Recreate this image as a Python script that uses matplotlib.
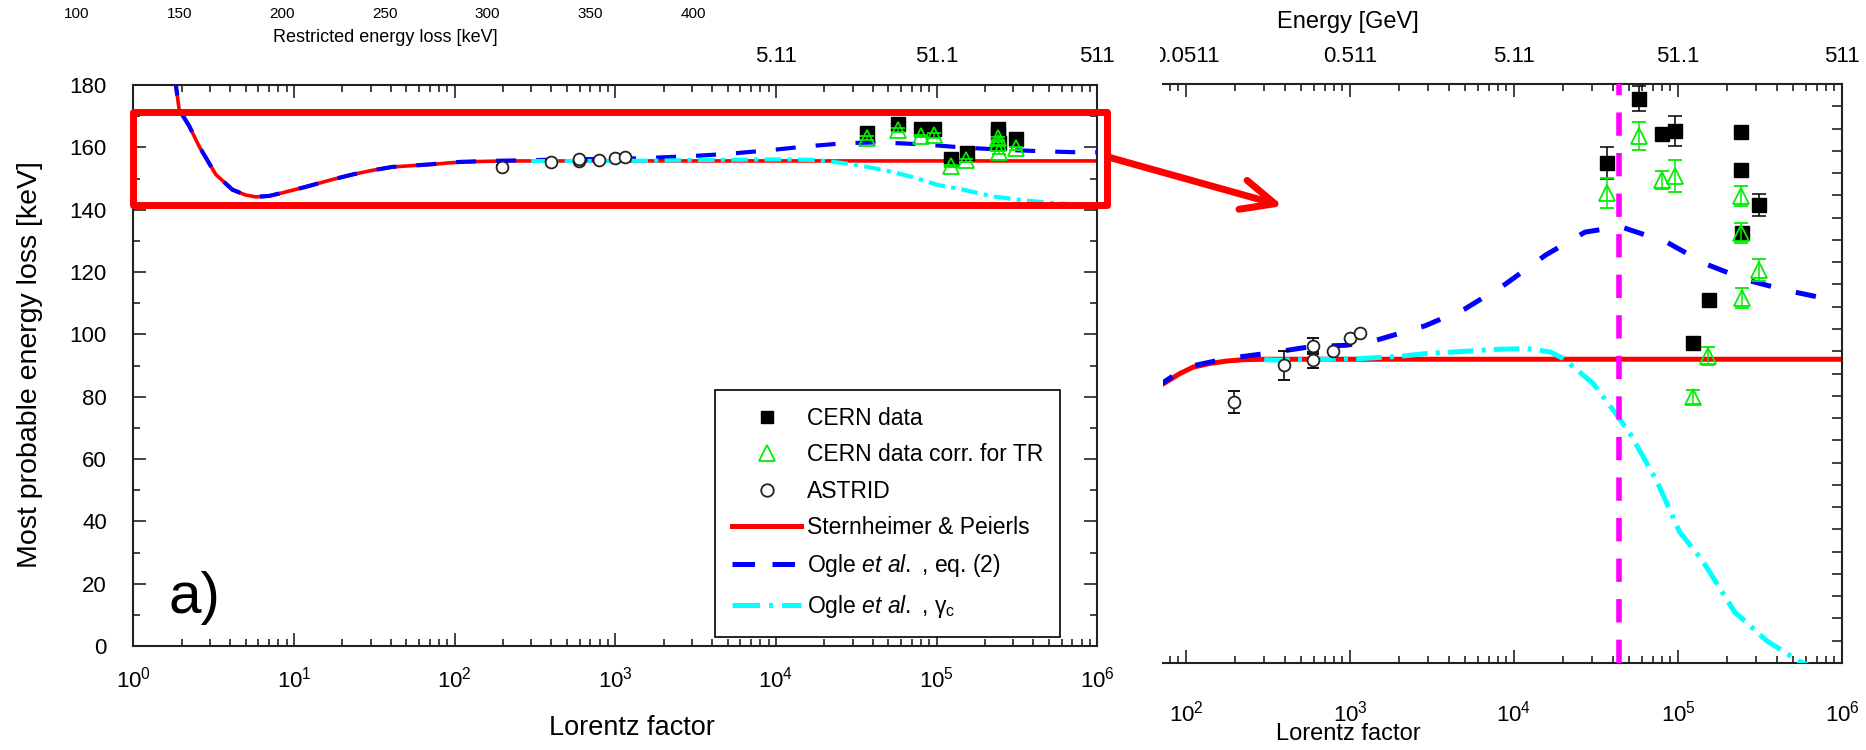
import numpy as np
import matplotlib
matplotlib.use("Agg")
import matplotlib.pyplot as plt
from matplotlib.lines import Line2D
from matplotlib.patches import Rectangle, FancyArrowPatch, ArrowStyle
from matplotlib.ticker import MultipleLocator, LogLocator, NullFormatter
from matplotlib.transforms import Bbox, blended_transform_factory
from matplotlib import font_manager

# ---------------- data ----------------
# Sternheimer & Peierls (red)
gam_sp = [1.80, 1.84, 1.93, 2.23, 2.57, 3.26, 4.14, 5.0, 5.78, 7.0, 8.46, 11.8, 17.3, 23,
          30.6, 40.8, 57, 72.8, 91.9, 110.8, 140, 177, 224, 300, 1e6]
e_sp = [183, 180, 172.1, 166.8, 160.3, 151.3, 146.4, 144.7, 144.1, 144.4, 145.4, 147.3, 149.65, 151.25,
        152.6, 153.7, 154.2, 154.54, 155.0, 155.29, 155.45, 155.56, 155.62, 155.64, 155.64]
# Ogle et al., eq. (2) (blue dashed)
gam_og = [1.80, 1.84, 1.93, 2.23, 2.57, 3.26, 4.14, 5.0, 5.78, 7.0, 8.46, 11.8, 17.3, 23,
          30.6, 40.8, 57, 72.8, 91.9, 110.8, 177, 309, 570, 955, 1455, 2863, 5020, 8810,
          15600, 27100, 44300, 85300, 147500, 262000, 460000, 701000, 1e6]
e_og = [183, 180, 172.1, 166.8, 160.3, 151.3, 146.4, 144.7, 144.1, 144.4, 145.4, 147.3, 149.65, 151.25,
        152.6, 153.7, 154.2, 154.6, 155.1, 155.35, 155.67, 155.9, 156.2, 156.27, 156.5, 157.14, 157.9, 159.0,
        160.32, 161.35, 161.6, 160.9, 159.92, 159.2, 158.73, 158.45, 158.4]
# Ogle et al., gamma_c (cyan dash-dot)
gam_gc = [300, 357, 656, 1151, 2020, 2940, 5150, 7480, 11900, 16600, 20000, 30400, 40400, 51000,
          74000, 102000, 141000, 221000, 347000, 542000, 1e6]
e_gc = [155.62, 155.6, 155.63, 155.67, 155.77, 155.9, 156.0, 156.08, 156.12, 155.97, 155.67, 154.55,
        153.34, 152.3, 150.2, 147.9, 146.6, 144.3, 143.0, 142.1, 141.2]

# CERN data (black squares)
gam_cern = [3.67e4, 5.78e4, 7.96e4, 9.6e4, 1.23e5, 1.54e5, 2.41e5, 2.41e5, 2.45e5, 3.12e5]
e_cern = [164.45, 167.34, 165.76, 165.88, 156.35, 158.3, 165.83, 164.12, 161.3, 162.58]
err_cern = [0.7, 0.57, 0.0, 0.68, 0.0, 0.0, 0.0, 0.0, 0.0, 0.5]
# CERN data corrected for TR (green triangles)
gam_tr = [3.67e4, 5.78e4, 7.96e4, 9.6e4, 1.23e5, 1.52e5, 2.41e5, 2.41e5, 2.46e5, 3.12e5]
e_tr = [163.1, 165.65, 163.7, 163.85, 153.95, 155.8, 162.95, 161.3, 158.4, 159.65]
err_tr = [0.68, 0.63, 0.4, 0.72, 0.3, 0.4, 0.45, 0.45, 0.45, 0.5]
# ASTRID (open circles)
gam_astrid = [197, 396, 593, 593, 791, 1000, 1151]
e_astrid = [153.72, 155.37, 155.6, 156.23, 156.0, 156.6, 156.8]
err_astrid = [0.5, 0.64, 0.35, 0.35, 0.0, 0.0, 0.0]

gamma_crit = 4.37e4  # magenta line

energy_ticks_left = [1e4, 1e5, 1e6]
energy_labels_left = ["5.11", "51.1", "511"]
energy_ticks_right = [1e2, 1e3, 1e4, 1e5, 1e6]
energy_labels_right = ["0.0511", "0.511", "5.11", "51.1", "511"]
restricted_ticks = [100, 150, 200, 250, 300, 350, 400]

legend_labels = ["CERN data", "CERN data corr. for TR", "ASTRID", "Sternheimer & Peierls",
                 r"Ogle $\mathit{et\ al.}$ , eq. (2)", r"Ogle $\mathit{et\ al.}$ , $\gamma_{c}$"]

# ---------------- style ----------------
plt.rcParams['font.family'] = ['Liberation Sans', 'DejaVu Sans']
plt.rcParams['mathtext.fontset'] = 'custom'
plt.rcParams['mathtext.rm'] = 'Liberation Sans'
plt.rcParams['mathtext.it'] = 'Liberation Sans:italic'
plt.rcParams['mathtext.default'] = 'regular'
names = {f.name for f in font_manager.fontManager.ttflist}
narrow = 'Liberation Sans Narrow' if 'Liberation Sans Narrow' in names else 'Liberation Sans'

RED, BLUE, CYAN, GREEN, MAG = '#ff0000', '#0000ff', '#00ffff', '#00ee00', '#ff00ff'

W, H = 1866, 750
fig = plt.figure(figsize=(W / 100, H / 100), dpi=100)
def fx(x): return x / W
def fy(y): return 1 - y / H

ax1 = fig.add_axes([fx(133.3), fy(646), fx(1097.3) - fx(133.3), fy(85) - fy(646)])
ax2 = fig.add_axes([fx(1163), fy(663), fx(1842) - fx(1163), fy(84) - fy(663)])

def nanerr(e):
    e = np.asarray(e, float)
    return np.where(e > 0, e, np.nan)

def draw(ax, lw_s, lw_d, dash_b, dash_c):
    ax.plot(gam_sp, e_sp, color=RED, lw=lw_s, zorder=2)
    ax.plot(gam_og, e_og, color=BLUE, lw=lw_d, dashes=dash_b, zorder=3)
    ax.plot(gam_gc, e_gc, color=CYAN, lw=lw_d, dashes=dash_c, zorder=4)
    ax.errorbar(gam_astrid, e_astrid, yerr=nanerr(err_astrid), fmt='o', ms=8.5, mfc='white',
                mec='#222222', mew=1.3, ecolor='black', elinewidth=1.1, capsize=4.5, capthick=1.1, zorder=6)
    ax.errorbar(gam_cern, e_cern, yerr=nanerr(err_cern), fmt='s', ms=9.4, color='black',
                ecolor='black', elinewidth=1.1, capsize=4.7, capthick=1.1, zorder=7)
    ax.errorbar(gam_tr, e_tr, yerr=nanerr(err_tr), fmt='^', ms=11, mfc='none', mec=GREEN, mew=1.3,
                ecolor=GREEN, elinewidth=1.1, capsize=4.7, capthick=1.1, zorder=8)

draw(ax1, 2.6, 3.0, (4.8, 4.8), (4, 1.5, 1, 1.5))
draw(ax2, 3.6, 3.6, (4.1, 5.1), (5.1, 1.65, 0.8, 1.65))
ax2.axvline(gamma_crit, color=MAG, lw=4, dashes=(4.2, 3.1), zorder=5)

for ax in (ax1, ax2):
    ax.set_xscale('log')
    ax.xaxis.set_major_locator(LogLocator(base=10, numticks=20))
    ax.xaxis.set_minor_locator(LogLocator(base=10, subs=np.arange(2, 10), numticks=100))
    ax.xaxis.set_minor_formatter(NullFormatter())
    for s in ax.spines.values():
        s.set_linewidth(1.5)
        s.set_color('#222222')
    ax.tick_params(which='both', direction='in', top=True, width=1.2, color='#222222')
    ax.tick_params(which='major', length=9.5)
    ax.tick_params(which='minor', length=5)

ax1.set_xlim(1, 1e6)
ax1.set_ylim(0, 180)
ax1.yaxis.set_major_locator(MultipleLocator(20))
ax1.yaxis.set_minor_locator(MultipleLocator(10))
ax1.tick_params(which='both', right=True)
ax1.tick_params(axis='y', labelsize=16, pad=19)
ax1.tick_params(axis='x', labelsize=16, pad=15)

ax2.set_xlim(10 ** (2 + (1163 - 1186) / 164), 1e6)
ax2.set_ylim(142, 168)
ax2.spines['left'].set_visible(False)
ax2.yaxis.set_major_locator(MultipleLocator(1))
ax2.tick_params(axis='y', which='both', left=False, labelleft=False, right=True, length=7)
ax2.tick_params(axis='x', labelsize=16, pad=27)

# top energy labels
tl = blended_transform_factory(ax1.transData, fig.transFigure)
for g, s in zip(energy_ticks_left, energy_labels_left):
    fig.text(g, fy(57), s, transform=tl, ha='center', va='center', fontsize=16)
tr = blended_transform_factory(ax2.transData, fig.transFigure)
for g, s in zip(energy_ticks_right, energy_labels_right):
    t = fig.text(g, fy(57), s, transform=tr, ha='center', va='center', fontsize=16)
    t.set_clip_on(True)
    t.set_clip_box(Bbox.from_extents(1160, 0, 1866, 750))

# axis labels
fig.text(fx(30), fy(365), 'Most probable energy loss [keV]', rotation=90, ha='center', va='center', fontsize=20.5)
fig.text(fx(632), fy(728), 'Lorentz factor', ha='center', va='center', fontsize=19.5)
fig.text(fx(1348), fy(734), 'Lorentz factor', ha='center', va='center', fontsize=17)
fig.text(fx(1348), fy(22), 'Energy [GeV]', ha='center', va='center', fontsize=17)
fig.text(fx(194), fy(598), 'a)', ha='center', va='center', fontsize=42)

# stray restricted-energy-loss axis at the top
ax0 = fig.add_axes([fx(77), fy(1), fx(693) - fx(77), 0.0005])
ax0.set_xlim(restricted_ticks[0], restricted_ticks[-1])
ax0.set_xticks(restricted_ticks)
ax0.set_yticks([])
for s in ax0.spines.values():
    s.set_visible(False)
ax0.patch.set_alpha(0)
ax0.tick_params(axis='x', length=0, labelsize=11, pad=4)
for lab in ax0.get_xticklabels():
    lab.set_fontfamily(narrow)
ax0.set_xlabel('Restricted energy loss [keV]', fontsize=13, family=narrow, labelpad=6)

# legend
handles = [Line2D([], [], ls='none', marker='s', color='black', ms=9),
           Line2D([], [], ls='none', marker='^', mfc='none', mec=GREEN, ms=12, mew=1.3),
           Line2D([], [], ls='none', marker='o', mfc='white', mec='#222222', ms=9, mew=1.3),
           Line2D([], [], color=RED, lw=3.6),
           Line2D([], [], color=BLUE, lw=3.6, dashes=(4.5, 3.5)),
           Line2D([], [], color=CYAN, lw=3.6, dashes=(5.5, 1.8, 0.8, 1.8))]
leg = ax1.legend(handles, legend_labels, loc='upper left', bbox_to_anchor=(fx(715), fy(390)),
                 bbox_transform=fig.transFigure, borderaxespad=0, frameon=True, fancybox=False,
                 edgecolor='black', framealpha=1, handlelength=3.0, handletextpad=0.25,
                 labelspacing=0.58, borderpad=0.75, fontsize=16.5)
leg.get_frame().set_linewidth(1.2)
leg.set_zorder(20)

# red highlight box and arrow
rect = Rectangle((fx(132.5), fy(204.5)), fx(1106.5) - fx(132.5), fy(111.5) - fy(204.5),
                 transform=fig.transFigure, fill=False, ec=RED, lw=5, joinstyle='round', zorder=30)
fig.add_artist(rect)
arrow = FancyArrowPatch((fx(1108), fy(157)), (fx(1283), fy(206)), transform=fig.transFigure,
                        arrowstyle=ArrowStyle('->', head_length=1.19, head_width=0.54),
                        mutation_scale=20, lw=5, color=RED, capstyle='round', joinstyle='round',
                        shrinkA=0, shrinkB=0, zorder=30)
fig.add_artist(arrow)

fig.savefig('out.png', dpi=100)
